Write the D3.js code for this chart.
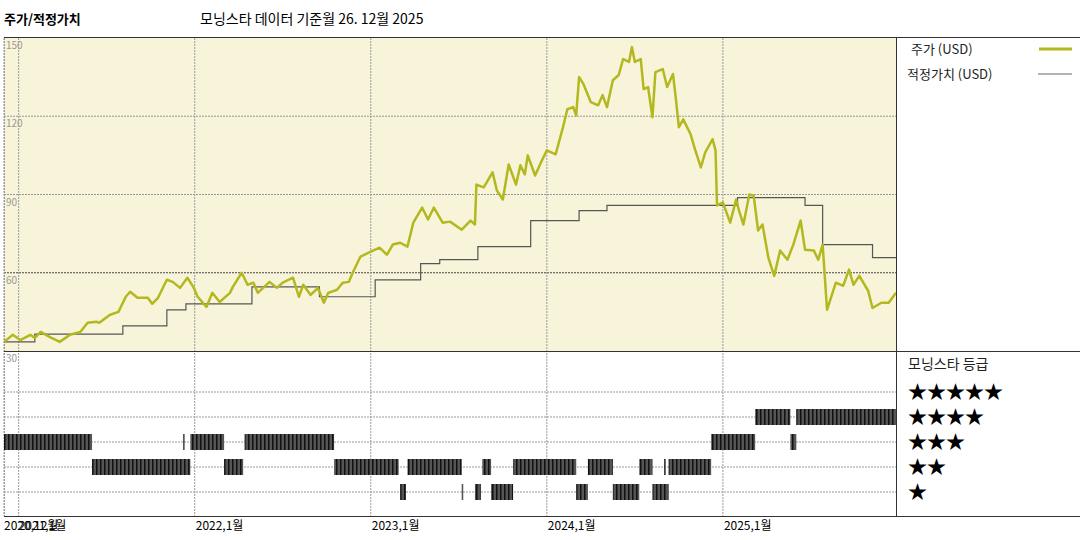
<!DOCTYPE html>
<html><head><meta charset="utf-8">
<script src="https://cdn.jsdelivr.net/npm/d3@7"></script>
<style>body{margin:0;background:#fff}text{font-family:"Noto Sans CJK KR",sans-serif}</style>
</head><body><div class="canvas"></div>
<script>
// months since Dec 2020, price in USD
var priceM = [0,0.6,1.1,1.8,2.1,2.5,3.1,3.8,4.5,5.2,5.7,6.3,6.5,7.2,7.8,8.3,8.6,9.1,9.8,10.1,10.5,11.1,11.5,12.0,12.5,12.9,13.2,13.8,14.2,14.7,15.4,15.6,16.2,16.6,17.0,17.3,18.1,18.6,19.0,19.7,20.1,20.4,20.9,21.4,21.8,22.1,22.7,23.1,23.5,23.8,24.3,25.0,25.6,26.1,26.5,27.0,27.5,27.9,28.5,28.9,29.3,29.9,30.4,31.2,31.8,32.1,32.2,32.7,33.3,33.6,34.0,34.4,34.9,35.2,35.5,35.7,36.2,36.6,37.0,37.6,38.1,38.4,38.8,39.0,39.2,39.5,40.0,40.5,40.8,41.1,41.5,41.9,42.2,42.6,42.8,43.0,43.4,43.6,43.9,44.2,44.4,44.9,45.2,45.6,45.8,46.0,46.3,46.8,47.1,47.5,47.8,48.3,48.5,48.6,49.0,49.5,49.9,50.1,50.4,50.8,51.1,51.4,51.7,52.1,52.5,52.9,53.4,53.8,54.3,54.6,55.2,55.5,55.8,56.1,56.7,57.2,57.6,57.9,58.3,58.9,59.2,59.8,60.3,60.8];
var priceV = [33.5,36.2,34.2,36.2,35,37.3,35.4,33.5,36.2,37.3,40.8,41.2,40.8,43.8,45,50.8,52.7,50.4,50.4,48.1,50.4,57.3,56.5,54.2,58.1,54.6,50.8,46.9,52.3,48.8,52.3,54.6,60,55.4,56.2,52.3,56.5,54.2,56.2,58.1,50.8,55.4,51.5,54.2,48.5,52.3,53.5,56.2,56.5,60.4,66.2,68.1,69.6,66.9,70.8,71.5,70,79.2,85,80.4,85,79.2,79.6,76.5,80,78.5,93.8,92.7,98.5,91.5,88.1,101.5,93.8,101.2,97.7,105,97.3,102.3,106.9,105.4,115.8,122.7,123.5,120.4,135,132.3,125.4,124.2,128.1,123.5,133.8,135.8,141.9,140.8,146.5,140.8,141.9,130.4,131.2,119.6,136.9,138.1,131.2,136.2,126.5,115.8,118.8,113.1,107.3,100.4,106.2,111.2,106.9,85.8,86.9,79.2,88.1,83.8,78.5,90,89.6,76.2,78.5,65.8,58.8,68.5,65,70.8,80,68.8,68.5,65,70.8,45.8,56.2,55,61.2,55.4,58.8,53.1,46.5,48.5,48.5,52.3];
// fair value steps: start month, value
var fairM = [0,2.1,8.1,11.1,12.4,16.9,21.5,25.3,28.4,29.7,32.3,35.9,39.2,41.1,50.0,54.6,55.8,59.2];
var fairV = [33.5,36.5,39.6,45.8,48.1,54.6,50.8,57.3,63.5,65,70,80,83.8,85.8,88.8,85.8,70.8,65.8];
var fairEnd = 60.8;
// star rating periods [start month, end month, stars]
var ratingSpans = [
  [0,6.0,3],[12.2,12.3,3],[12.7,15.0,3],[16.4,22.5,3],[48.2,51.2,3],[53.6,54.0,3],
  [6.0,12.7,2],[15.0,16.3,2],[22.5,26.9,2],[27.5,31.2,2],[32.6,33.2,2],[34.7,39.0,2],[39.8,41.5,2],[43.3,44.2,2],[45.0,45.1,2],[45.3,48.2,2],
  [27.0,27.4,1],[31.2,31.3,1],[32.1,32.5,1],[33.2,34.7,1],[39.0,39.8,1],[41.5,43.3,1],[44.2,45.3,1],
  [51.2,53.6,4],[54.0,60.8,4]
];
var yTicks = [150,120,90,60,30];
var xTickM = [0,1,13,25,37,49];
var xTickLabels = ['2020,12월','2021,1월','2022,1월','2023,1월','2024,1월','2025,1월'];

var W = 1080, H = 540;
var svg = d3.select('.canvas').append('svg').attr('width',W).attr('height',H);

var x = d3.scaleLinear().domain([0,60.8]).range([4,896]);
var y = d3.scaleLinear().domain([30,150]).range([351,38]);
var yR = d3.scaleLinear().domain([1,5]).range([492,392]);

// titles
svg.append('text').attr('x',4).attr('y',24).attr('font-size',13).attr('font-weight','bold').text('주가/적정가치');
svg.append('text').attr('x',200).attr('y',24).attr('font-size',14).text('모닝스타 데이터 기준월 26. 12월 2025');

// background
svg.append('rect').attr('x',4).attr('y',38).attr('width',892).attr('height',313).attr('fill','#f8f4d9');

// grid
var grid = svg.append('g').attr('stroke','#999').attr('stroke-dasharray','2,1').attr('stroke-width',1);
yTicks.slice(1,4).forEach(function(t){
  grid.append('line').attr('x1',4).attr('x2',896).attr('y1',y(t)).attr('y2',y(t)).attr('stroke', t==60?'#444':'#999');
});
[1,2,3,4,5].forEach(function(r){
  grid.append('line').attr('x1',4).attr('x2',896).attr('y1',yR(r)).attr('y2',yR(r));
});
xTickM.forEach(function(m){
  grid.append('line').attr('x1',x(m)).attr('x2',x(m)).attr('y1',38).attr('y2',516);
});
grid.append('line').attr('x1',4.5).attr('x2',4.5).attr('y1',38).attr('y2',516);

// y labels
svg.selectAll('.ylab').data(yTicks).enter().append('text')
  .attr('x',6).attr('y',function(d){return y(d)+11;}).attr('font-size',10).attr('fill','#999').text(function(d){return d;});

// fair value step line
var fairPts = fairM.map(function(m,i){return [m,fairV[i]];});
fairPts.push([fairEnd,fairV[fairV.length-1]]);
svg.append('path').datum(fairPts)
  .attr('d',d3.line().x(function(d){return x(d[0]);}).y(function(d){return y(d[1]);}).curve(d3.curveStepAfter))
  .attr('fill','none').attr('stroke','#555').attr('stroke-width',1.2);

// price line
var pricePts = priceM.map(function(m,i){return [m,priceV[i]];});
svg.append('path').datum(pricePts)
  .attr('d',d3.line().x(function(d){return x(d[0]);}).y(function(d){return y(d[1]);}))
  .attr('fill','none').attr('stroke','#b3b81f').attr('stroke-width',2.5).attr('stroke-linejoin','round');

// rating bars with striped texture
var defs = svg.append('defs');
var pat = defs.append('pattern').attr('id','stripe').attr('patternUnits','userSpaceOnUse').attr('width',4).attr('height',10);
pat.append('rect').attr('width',4).attr('height',10).attr('fill','#555');
pat.append('rect').attr('width',1.5).attr('height',10).attr('fill','#111');
svg.selectAll('.rb').data(ratingSpans).enter().append('rect')
  .attr('x',function(d){return x(d[0]);})
  .attr('width',function(d){return Math.max(1.5,x(d[1])-x(d[0]));})
  .attr('y',function(d){return yR(d[2])-8;}).attr('height',16)
  .attr('fill','url(#stripe)');

// frame lines
var frame = svg.append('g').attr('stroke','#333').attr('stroke-width',1);
frame.append('line').attr('x1',4).attr('x2',1080).attr('y1',37.5).attr('y2',37.5);
frame.append('line').attr('x1',4).attr('x2',1080).attr('y1',351.5).attr('y2',351.5);
frame.append('line').attr('x1',4).attr('x2',1080).attr('y1',516.5).attr('y2',516.5);
frame.append('line').attr('x1',896.5).attr('x2',896.5).attr('y1',38).attr('y2',516);

// x labels
svg.selectAll('.xlab').data(xTickM).enter().append('text')
  .attr('x',function(d){return x(d)+ (d<2?0:1);}).attr('y',530).attr('font-size',12)
  .text(function(d,i){return xTickLabels[i];});

// legend
svg.append('text').attr('x',911).attr('y',54).attr('font-size',13).attr('fill','#222').text('주가 (USD)');
svg.append('line').attr('x1',1039).attr('x2',1072).attr('y1',49).attr('y2',49).attr('stroke','#b3b81f').attr('stroke-width',3);
svg.append('text').attr('x',907).attr('y',79).attr('font-size',13).attr('fill','#222').text('적정가치 (USD)');
svg.append('line').attr('x1',1038).attr('x2',1072).attr('y1',74).attr('y2',74).attr('stroke','#666').attr('stroke-width',1.2);
svg.append('text').attr('x',908).attr('y',369).attr('font-size',14).attr('fill','#222').text('모닝스타 등급');
[5,4,3,2,1].forEach(function(r){
  svg.append('text').attr('x',908).attr('y',yR(r)+7).attr('font-size',19).attr('fill','#000')
    .text(d3.range(r).map(function(){return '★';}).join(''));
});
</script></body></html>
